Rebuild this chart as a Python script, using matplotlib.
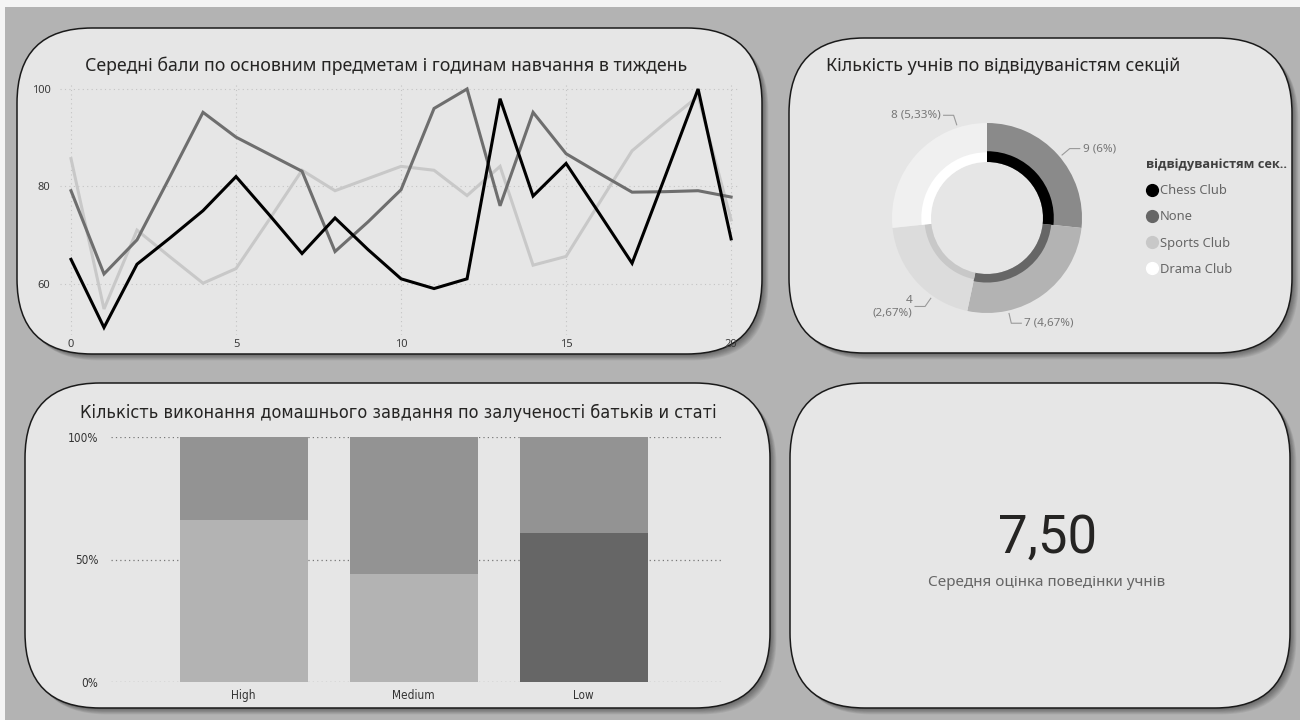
import matplotlib
matplotlib.use("Agg")
import matplotlib.pyplot as plt
from matplotlib.patches import FancyBboxPatch, Rectangle
from matplotlib.lines import Line2D
from matplotlib import font_manager as fm
import numpy as np

# ---------------- data ----------------
hours = list(range(21))
score_black = [65, 51, 64, 69.4, 75, 82, 74.2, 66.2, 73.5, 67, 61, 59, 61, 98, 78, 84.7, 74.5, 64.2, 82, 100, 69.2]
score_dark = [79.1, 62, 69, 82, 95.2, 90.1, 86.6, 83.1, 66.6, 72.7, 79.3, 96, 100, 76, 95.2, 86.7, 82.7, 78.8, 78.9, 79.1, 77.8]
score_light = [85.7, 54.8, 71, 65.5, 60.1, 63.1, 73.1, 83.3, 79.1, 81.6, 84.1, 83.3, 78.1, 84.1, 63.8, 65.6, 76.5, 87.3, 93, 98.5, 73.1]
line_ticks_x = [0, 5, 10, 15, 20]
line_ticks_y = [60, 80, 100]

sections = ["Chess Club", "None", "Sports Club", "Drama Club"]
section_total = [40, 40, 30, 40]
section_highlight = [9, 7, 4, 8]

involvement = ["High", "Medium", "Low"]
share_lower = [66.3, 44.0, 60.9]
share_upper = [33.7, 56.0, 39.1]
bar_ticks = [0, 50, 100]

behaviour_avg = 7.50

title_line = "Середні бали по основним предметам і годинам навчання в тиждень"
title_donut = "Кількість учнів по відвідуваністям секцій"
title_bar = "Кількість виконання домашнього завдання по залученості батьків и статі"
legend_title = "відвідуваністям сек.."
kpi_label = "Середня оцінка поведінки учнів"

# ---------------- styling ----------------
W, H = 1300, 720


def has_font(name):
    try:
        fm.findfont(fm.FontProperties(family=name), fallback_to_default=False)
        return True
    except Exception:
        return False


UI = "Noto Sans" if has_font("Noto Sans") else "DejaVu Sans"
BOLD_UI = "Open Sans" if has_font("Open Sans") else "DejaVu Sans"
NARROW = "Liberation Sans Narrow" if has_font("Liberation Sans Narrow") else "DejaVu Sans"
NARROW_STRETCH = "normal" if NARROW == "Liberation Sans Narrow" else "condensed"
KPI_FONT = "Roboto" if has_font("Roboto") else UI

plt.rcParams["font.family"] = [UI, "DejaVu Sans"]

fig = plt.figure(figsize=(W / 100, H / 100), dpi=100)
fig.patch.set_facecolor("#f4f4f4")

bg = fig.add_axes([0, 0, 1, 1])
bg.set_xlim(0, W)
bg.set_ylim(H, 0)
bg.axis("off")
bg.add_patch(Rectangle((5, 7), W, H, facecolor="#b3b3b3", edgecolor="none"))

cards = [(17, 28, 762, 354), (789, 38, 1292, 353), (25, 383, 770, 708), (790, 383, 1290, 708)]
for (x0, y0, x1, y1) in cards:
    for k in range(1, 9):
        bg.add_patch(FancyBboxPatch((x0 + k * 0.8, y0 + k * 0.8), x1 - x0, y1 - y0,
                                    boxstyle="round,pad=0,rounding_size=75",
                                    facecolor="black", alpha=0.06, edgecolor="none"))
    bg.add_patch(FancyBboxPatch((x0, y0), x1 - x0, y1 - y0,
                                boxstyle="round,pad=0,rounding_size=75",
                                facecolor="#e6e6e6", edgecolor="#1a1a1a", linewidth=1.1))


def fig_axes(x0, y0, x1, y1):
    ax = fig.add_axes([x0 / W, 1 - y1 / H, (x1 - x0) / W, (y1 - y0) / H])
    ax.set_facecolor("none")
    return ax


# ---------------- line chart ----------------
ax1 = fig_axes(60.1, 84.1, 737.7, 334.8)
ax1.set_xlim(-0.33, 20.2)
ax1.set_ylim(49.5, 101)
ax1.plot(hours, score_light, color="#c8c8c8", lw=2.2, solid_joinstyle="miter", clip_on=False)
ax1.plot(hours, score_dark, color="#6e6e6e", lw=2.2, solid_joinstyle="miter", clip_on=False)
ax1.plot(hours, score_black, color="#000000", lw=2.2, solid_joinstyle="miter", clip_on=False)
ax1.set_xticks(line_ticks_x)
ax1.set_yticks(line_ticks_y)
ax1.tick_params(axis="both", length=0, labelsize=8, colors="#3a3a3a")
ax1.tick_params(axis="y", pad=7)
ax1.tick_params(axis="x", pad=3)
ax1.grid(True, linestyle=(0, (1, 3)), color="#c4c4c4", linewidth=0.8)
for s in ax1.spines.values():
    s.set_visible(False)
fig.text(386 / W, 1 - 66 / H, title_line, ha="center", va="center", fontsize=12.8, color="#252423")

# ---------------- donut ----------------
faded = ["#8a8a8a", "#b3b3b3", "#dcdcdc", "#f0f0f0"]
full = ["#000000", "#666666", "#c8c8c8", "#ffffff"]
R_OUT, R_IN = 95, 56
cx, cy = 987, 218
axd = fig_axes(cx - 125, cy - 125, cx + 125, cy + 125)
outer, _ = axd.pie(section_total, radius=R_OUT, startangle=90, counterclock=False, colors=faded,
                   wedgeprops=dict(width=R_OUT - R_IN, linewidth=0))
inner, _ = axd.pie(section_total, radius=R_OUT, startangle=90, counterclock=False, colors=full,
                   wedgeprops=dict(width=R_OUT - R_IN, linewidth=0))
for w, hv, tv in zip(inner, section_highlight, section_total):
    r = np.sqrt(R_IN ** 2 + hv / tv * (R_OUT ** 2 - R_IN ** 2))
    w.set_radius(r)
    w.set_width(r - R_IN)
axd.set_xlim(-125, 125)
axd.set_ylim(-125, 125)
axd.set_aspect("equal")
axd.axis("off")

LABEL_ANGLE = [50, 167, 215, 342]
LABEL_WRAP = [False, False, True, False]
grand_total = sum(section_total)
for hv, ang, wrap in zip(section_highlight, LABEL_ANGLE, LABEL_WRAP):
    pct = f"{hv / grand_total * 100:.2f}".rstrip("0").rstrip(".").replace(".", ",")
    txt = f"{hv}\n({pct}%)" if wrap else f"{hv} ({pct}%)"
    a = np.deg2rad(ang)
    dx, dy = np.sin(a), np.cos(a)
    p1 = (98 * dx, 98 * dy)
    p2 = (108 * dx, 108 * dy)
    side = 1 if dx > 0 else -1
    p3 = (p2[0] + side * 10, p2[1])
    axd.plot([p1[0], p2[0], p3[0]], [p1[1], p2[1], p3[1]], color="#9a9a9a", lw=0.8, clip_on=False)
    axd.text(p3[0] + side * 3, p3[1], txt, ha="left" if side > 0 else "right", va="center",
             fontsize=8.4, color="#777777", clip_on=False, linespacing=1.2,
             multialignment="right" if side < 0 else "left")

fig.text(826 / W, 1 - 66 / H, title_donut, ha="left", va="center", fontsize=12.9, color="#252423")

handles = [Line2D([], [], marker="o", linestyle="none", markersize=8.5, markerfacecolor=c,
                  markeredgecolor=c) for c in full]
leg = fig.legend(handles, sections, loc="upper left", bbox_to_anchor=(1146 / W, 1 - 158 / H),
                 frameon=False, fontsize=9.3, handletextpad=0.05, labelspacing=1.02,
                 handlelength=1.0, borderaxespad=0, borderpad=0,
                 title=legend_title, alignment="left")
lt = leg.get_title()
lt.set_family([BOLD_UI, "DejaVu Sans"])
lt.set_fontweight("bold")
lt.set_fontsize(9.2)
lt.set_color("#404040")
for t in leg.get_texts():
    t.set_color("#666666")

# ---------------- bar chart ----------------
ax3 = fig_axes(111, 437, 723, 682)
ax3.set_xlim(-0.78, 2.82)
ax3.set_ylim(0, 100)
xpos = np.arange(len(involvement))
lower_colors = ["#b3b3b3", "#b3b3b3", "#666666"]
ax3.bar(xpos, share_lower, width=0.753, color=lower_colors, linewidth=0, zorder=2)
ax3.bar(xpos, share_upper, bottom=share_lower, width=0.753, color="#939393", linewidth=0, zorder=2)
ax3.set_xticks(xpos)
ax3.set_xticklabels(involvement)
ax3.set_yticks(bar_ticks)
ax3.set_yticklabels([f"{v}%" for v in bar_ticks])
ax3.tick_params(axis="both", length=0, labelsize=8.5, colors="#333333")
ax3.tick_params(axis="y", pad=9)
ax3.tick_params(axis="x", pad=5)
for lab in ax3.get_xticklabels() + ax3.get_yticklabels():
    lab.set_family([NARROW, "DejaVu Sans"])
    lab.set_stretch(NARROW_STRETCH)
ax3.yaxis.grid(True, linestyle=(0, (1, 2.5)), color="#777777", linewidth=0.9, zorder=0)
ax3.set_axisbelow(True)
for s in ax3.spines.values():
    s.set_visible(False)
fig.text(398 / W, 1 - 413 / H, title_bar, ha="center", va="center", fontsize=13,
         color="#252423", family=[NARROW, "DejaVu Sans"], stretch=NARROW_STRETCH)

# ---------------- KPI card ----------------
fig.text(1048 / W, 1 - 538 / H, f"{behaviour_avg:.2f}".replace(".", ","), ha="center", va="center",
         fontsize=38, color="#252423", family=[KPI_FONT, "DejaVu Sans"])
fig.text(1047 / W, 1 - 583 / H, kpi_label, ha="center", va="center", fontsize=11, color="#666666")

fig.savefig("out.png", dpi=100, facecolor=fig.get_facecolor())
